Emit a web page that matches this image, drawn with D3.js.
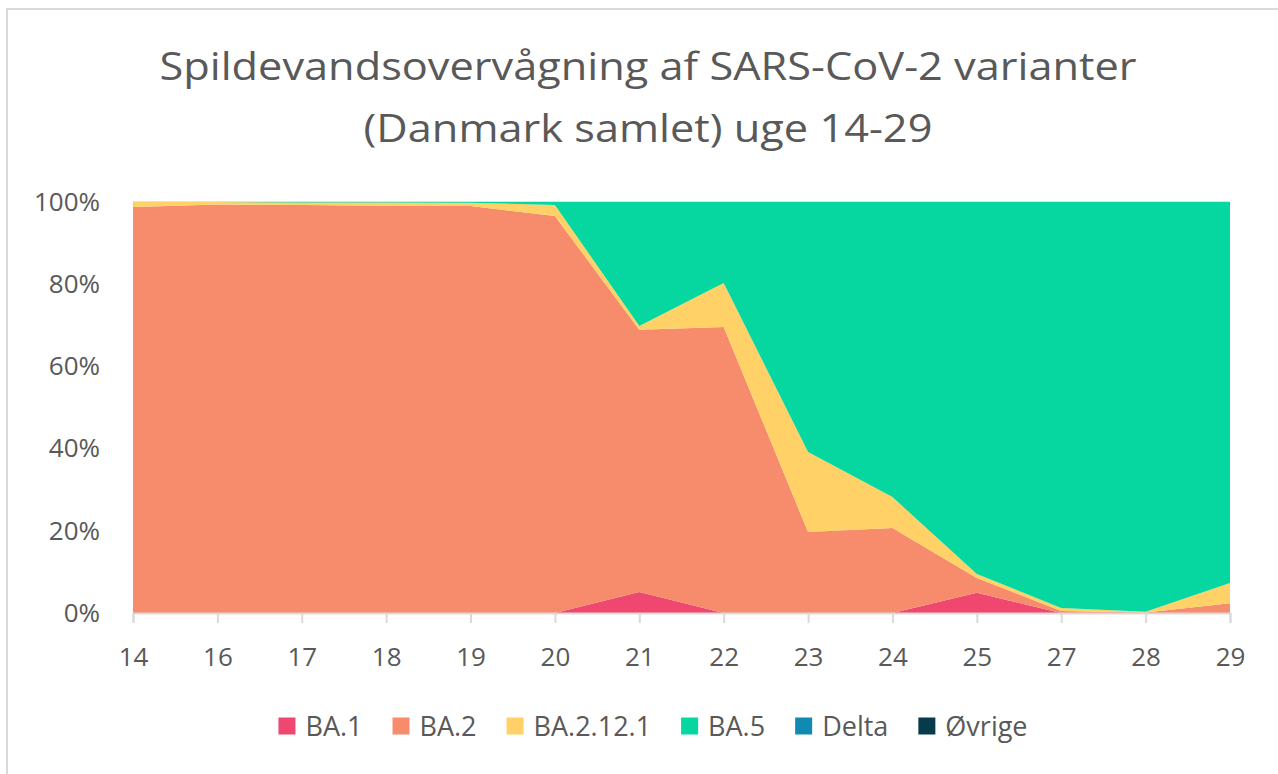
<!DOCTYPE html>
<html>
<head>
<meta charset="utf-8">
<script src="https://cdn.jsdelivr.net/npm/d3@7"></script>
<style>
  html, body { margin: 0; padding: 0; background: #ffffff; }
  svg { display: block; }
  text { font-family: "Open Sans", Lato, sans-serif; fill: #595959; }
</style>
</head>
<body>
<svg id="chart" width="1278" height="774"></svg>
<script>
// ---- Data (percent share per week) ----
const weeks   = ["14","16","17","18","19","20","21","22","23","24","25","27","28","29"];
const BA1     = [0, 0, 0, 0, 0, 0, 5.1, 0, 0, 0, 4.9, 0, 0, 0];
const BA2     = [98.8, 99.4, 99.3, 99.1, 99.0, 96.6, 63.8, 69.6, 19.7, 20.7, 3.6, 0.5, 0.1, 2.4];
const BA2121  = [1.2, 0.6, 0.6, 0.8, 0.8, 2.7, 0.9, 10.7, 19.5, 7.5, 1.0, 0.7, 0.2, 4.9];
const BA5     = [0, 0, 0.1, 0.1, 0.2, 0.7, 30.2, 19.7, 60.8, 71.8, 90.5, 98.8, 99.7, 92.7];
const Delta   = [0, 0, 0, 0, 0, 0, 0, 0, 0, 0, 0, 0, 0, 0];
const Ovrige  = [0, 0, 0, 0, 0, 0, 0, 0, 0, 0, 0, 0, 0, 0];
const seriesNames = ["BA.1", "BA.2", "BA.2.12.1", "BA.5", "Delta", "Øvrige"];
const yTicks = [0, 20, 40, 60, 80, 100];
const titleLines = ["Spildevandsovervågning af SARS-CoV-2 varianter", "(Danmark samlet) uge 14-29"];

const seriesValues = [BA1, BA2, BA2121, BA5, Delta, Ovrige];
const colors = ["#EF476F", "#F68C6C", "#FFD166", "#06D6A0", "#118AB2", "#073B4C"];

const table = weeks.map((w, i) => {
  const row = { week: w };
  seriesNames.forEach((s, j) => row[s] = seriesValues[j][i]);
  return row;
});

const svg = d3.select("#chart");
const FONT = "'Open Sans', Lato, sans-serif";

// chart border
svg.append("rect")
  .attr("x", 7).attr("y", 9)
  .attr("width", 1290).attr("height", 790)
  .attr("fill", "none").attr("stroke", "#D9D9D9").attr("stroke-width", 2);

const pLeft = 133, pRight = 1230, pTop = 202, pBottom = 613;
const x = d3.scalePoint().domain(weeks).range([pLeft, pRight]);
const y = d3.scaleLinear().domain([0, 100]).range([pBottom, pTop]);

// gridlines
svg.append("g").selectAll("line").data(yTicks).join("line")
  .attr("x1", pLeft).attr("x2", pRight)
  .attr("y1", d => y(d)).attr("y2", d => y(d))
  .attr("stroke", "#D9D9D9").attr("stroke-width", 1.5);

// stacked areas
const stack = d3.stack().keys(seriesNames);
const layers = stack(table);
const area = d3.area()
  .x(d => x(d.data.week))
  .y0(d => y(d[0]))
  .y1(d => y(d[1]));

svg.append("g").selectAll("path").data(layers).join("path")
  .attr("d", area)
  .attr("fill", (d, i) => colors[i]);

// x axis
const xAxis = d3.axisBottom(x).tickSize(10).tickPadding(25);
const gx = svg.append("g").attr("transform", `translate(0,${pBottom})`).call(xAxis);
gx.select(".domain").attr("stroke", "#D9D9D9").attr("stroke-width", 2);
gx.selectAll(".tick line").attr("stroke", "#D9D9D9").attr("stroke-width", 2);
gx.selectAll(".tick text").attr("font-size", 26).attr("fill", "#595959")
  .style("font-family", FONT);

// y axis labels
const yAxis = d3.axisLeft(y).tickValues(yTicks).tickFormat(d => d + "%").tickSize(0).tickPadding(33);
const gy = svg.append("g").attr("transform", `translate(${pLeft},0)`).call(yAxis);
gy.select(".domain").remove();
gy.selectAll(".tick text").attr("font-size", 26).attr("fill", "#595959")
  .style("font-family", FONT);

// title
const titles = svg.append("g").selectAll("text").data(titleLines).join("text")
  .attr("x", 648).attr("y", (d, i) => i === 0 ? 80 : 142)
  .attr("text-anchor", "middle")
  .attr("font-size", 38)
  .text(d => d);
const natW = [];
titles.each(function() { natW.push(this.getComputedTextLength()); });
const stretch = 977 / natW[0];
titles.attr("textLength", (d, i) => natW[i] * stretch)
  .attr("lengthAdjust", "spacingAndGlyphs");

// legend
const legend = svg.append("g");
const items = legend.selectAll("g").data(seriesNames).join("g");
items.append("rect").attr("width", 17).attr("height", 17).attr("y", -8.5)
  .attr("fill", (d, i) => colors[i]);
items.append("text").attr("x", 27).attr("dy", "0.36em")
  .attr("font-size", 27).text(d => d);
const widths = [];
items.each(function() { widths.push(this.getBBox().width); });
const gap = 30;
const total = d3.sum(widths) + gap * (widths.length - 1);
let cx = 653 - total / 2;
items.attr("transform", (d, i) => {
  const t = `translate(${cx},726)`;
  cx += widths[i] + gap;
  return t;
});
</script>
</body>
</html>
